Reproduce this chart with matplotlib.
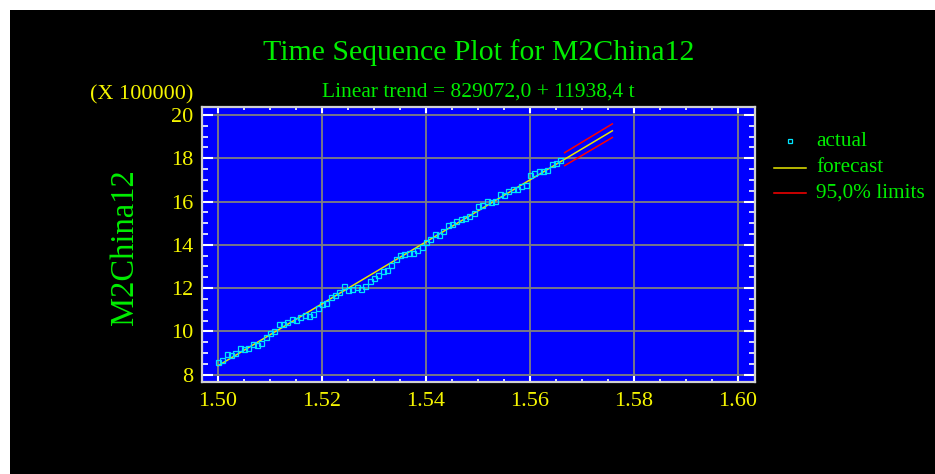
import matplotlib.pyplot as plt
from matplotlib.lines import Line2D
from matplotlib.patches import Rectangle
import numpy as np

# M2China12, in units of 100000
actual = [8.57, 8.68, 8.94, 8.90, 8.99, 9.24, 9.18, 9.24, 9.42, 9.35,
          9.46, 9.73, 9.92, 10.00, 10.35, 10.35, 10.45, 10.56, 10.54, 10.65,
          10.76, 10.70, 10.80, 11.08, 11.26, 11.33, 11.58, 11.70, 11.83, 12.11,
          11.93, 11.98, 12.03, 11.98, 12.09, 12.31, 12.45, 12.60, 12.77, 12.82,
          13.08, 13.35, 13.55, 13.59, 13.64, 13.63, 13.77, 13.92, 14.15, 14.26,
          14.48, 14.45, 14.62, 14.91, 14.94, 15.12, 15.19, 15.22, 15.33, 15.49,
          15.78, 15.84, 16.01, 15.98, 16.04, 16.33, 16.31, 16.48, 16.59, 16.56,
          16.73, 16.77, 17.24, 17.32, 17.42, 17.41, 17.46, 17.72, 17.80, 17.92]
start = 1.50
step = 1 / 1200

# trend / forecast line (periods 1 and 92) and 95% limits (periods 81 and 92)
forecast_t = [1, 92]
forecast_v = [8.41, 19.27]
limits_t = [81, 92]
upper_v = [18.26, 19.59]
lower_v = [17.66, 18.96]

title = "Time Sequence Plot for M2China12"
subtitle = "Linear trend = 829072,0 + 11938,4 t"
ylabel = "M2China12"
scale_note = "(X 100000)"
legend_labels = ["actual", "forecast", "95,0% limits"]

green = "#00ee00"
yellow = "#f5f500"
cyan = "#00e5ff"

plt.rcParams["font.family"] = ["Liberation Serif", "DejaVu Serif"]

W, H = 935, 474
fig = plt.figure(figsize=(W / 100, H / 100), dpi=100)
fig.patch.set_facecolor("white")
fig.add_artist(Rectangle((10 / W, 0), 1, 1 - 10 / H, transform=fig.transFigure,
                         facecolor="black", edgecolor="none", zorder=-10))

ax = fig.add_axes([202 / W, 92 / H, 553 / W, 275 / H])
ax.set_facecolor("#0000ff")

def tx(t):
    return start + (np.asarray(t) - 1) * step

periods = np.arange(1, len(actual) + 1)
ax.plot(tx(forecast_t), forecast_v, color="#e8e800", lw=1.1, zorder=3)
ax.plot(tx(limits_t), upper_v, color="#ff0000", lw=1.1, zorder=3)
ax.plot(tx(limits_t), lower_v, color="#ff0000", lw=1.1, zorder=3)
ax.plot(tx(periods), actual, ls="none", marker="s", ms=3.6, mfc="none",
        mec=cyan, mew=0.9, zorder=4)

ax.set_xlim(1.49692, 1.60327)
ax.set_ylim(7.66, 20.37)
ax.set_xticks(np.arange(1.50, 1.601, 0.02))
ax.set_xticks(np.arange(1.50, 1.601, 0.005), minor=True)
ax.set_yticks(np.arange(8, 20.1, 2))
ax.set_yticks(np.arange(8, 20.1, 0.5), minor=True)
ax.set_xticklabels([f"{v:.2f}" for v in np.arange(1.50, 1.601, 0.02)])
ax.set_yticklabels([f"{v:.0f}" for v in np.arange(8, 20.1, 2)])

ax.grid(True, which="major", color="#808080", lw=1.3)
for s in ax.spines.values():
    s.set_color("#d0d0d0")
    s.set_linewidth(1.6)

ax.tick_params(axis="x", which="major", direction="in", length=4, width=1.5,
               color="white", top=True, labelsize=16, labelcolor=yellow, pad=7)
ax.tick_params(axis="x", which="minor", direction="in", length=2.5, width=1.2,
               color="white", top=True)
ax.tick_params(axis="y", which="major", direction="in", length=8, width=1.5,
               color="white", right=True, labelsize=16, labelcolor=yellow, pad=6)
ax.tick_params(axis="y", which="minor", direction="in", length=4.5, width=1.2,
               color="white", right=True)

fig.text(478.5 / W, 1 - 53 / H, title, color=green, fontsize=21.5,
         ha="center", va="center")
fig.text(478.5 / W, 1 - 92 / H, subtitle, color=green, fontsize=15.5,
         ha="center", va="center")
fig.text(125 / W, 1 - 247 / H, ylabel, color=green, fontsize=23.5,
         rotation=90, ha="center", va="center")
fig.text(193 / W, 1 - 95 / H, scale_note, color=yellow, fontsize=16,
         ha="right", va="center")

# legend drawn by hand to the right of the plot
rows = [141, 168, 193]
fig.add_artist(Line2D([790 / W], [1 - rows[0] / H], transform=fig.transFigure,
                      ls="none", marker="s", ms=2.5, mfc="none", mec=cyan, mew=0.9))
fig.add_artist(Line2D([774 / W, 806 / W], [1 - rows[1] / H] * 2,
                      transform=fig.transFigure, color="#e8e800", lw=1.1))
fig.add_artist(Line2D([774 / W, 806 / W], [1 - rows[2] / H] * 2,
                      transform=fig.transFigure, color="#ff0000", lw=1.1))
for lab, r in zip(legend_labels, rows):
    fig.text(816 / W, 1 - r / H, lab, color=green, fontsize=15.3,
             ha="left", va="center")

fig.savefig("out.png", dpi=100, facecolor=fig.get_facecolor())
